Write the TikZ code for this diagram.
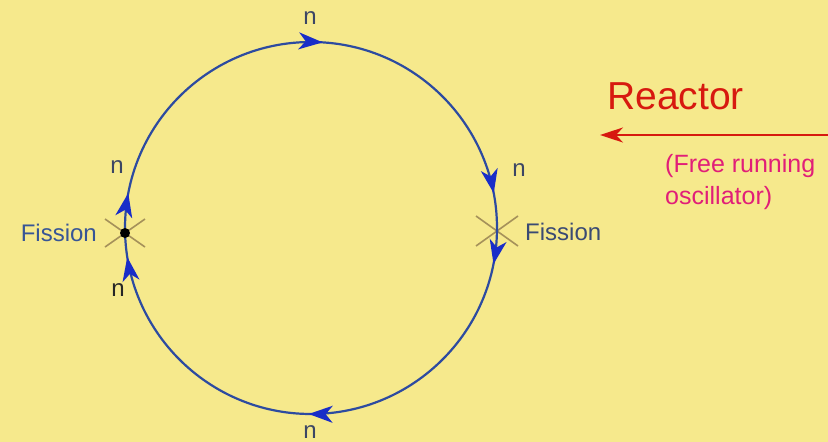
\documentclass[tikz,border=0pt]{standalone}
\usepackage{fontspec}
\setmainfont{Liberation Sans}
\usetikzlibrary{arrows.meta,decorations.markings,calc}
\definecolor{bgyel}{RGB}{246,233,140}
\definecolor{loopblue}{RGB}{45,75,160}
\definecolor{tipblue}{RGB}{25,45,200}
\definecolor{labblue}{RGB}{55,85,150}
\definecolor{nblue}{RGB}{60,70,100}
\definecolor{crosscol}{RGB}{165,145,90}
\definecolor{reactred}{RGB}{215,25,15}
\definecolor{oscpink}{RGB}{225,30,120}
\tikzset{
  lbl/.style={inner sep=0pt, font=\fontsize{24}{28}\selectfont},
  nlbl/.style={lbl, text=nblue},
  fislbl/.style={lbl, text=labblue},
  crossline/.style={draw=crosscol, line width=1.6pt},
  looptip/.tip={Stealth[length=24pt,width=17pt,inset=7pt]}
}
\begin{document}
\begin{tikzpicture}[x=1pt,y=-1pt]
\fill[bgyel] (0,0) rectangle (828,442);
\useasboundingbox (0,0) rectangle (828,442);
\coordinate (c) at (311,228);
% crosses
\coordinate (fisL) at (125,233);
\coordinate (fisR) at (497,231);
\draw[crossline] ($(fisL)+(-20,-14)$) -- ($(fisL)+(20,14)$);
\draw[crossline] ($(fisL)+(-20,14)$) -- ($(fisL)+(20,-14)$);
\draw[crossline] ($(fisR)+(-21,-15)$) -- ($(fisR)+(21,15)$);
\draw[crossline] ($(fisR)+(-21,15)$) -- ($(fisR)+(21,-15)$);
% loop
\draw[loopblue, line width=2.2pt,
  decoration={markings,
    mark=at position 0.010 with {\arrow[tipblue]{looptip}},
    mark=at position 0.220 with {\arrow[tipblue]{looptip}},
    mark=at position 0.281 with {\arrow[tipblue]{looptip}},
    mark=at position 0.502 with {\arrow[tipblue]{looptip}},
    mark=at position 0.725 with {\arrow[tipblue]{looptip}},
    mark=at position 0.780 with {\arrow[tipblue]{looptip}}
  }, postaction={decorate}]
  (c) ++(0,-186) arc[start angle=-90, end angle=270, radius=186];
\fill[black] (fisL) circle (5pt);
% labels
\node[nlbl] (nTop) at (310,18) {n};
\node[nlbl] (nRight) at (519,170) {n};
\node[nlbl] (nLeftT) at (117,167) {n};
\node[lbl, text=black!85] (nLeftB) at (118,290) {n};
\node[nlbl] (nBot) at (310,432) {n};
\node[fislbl, anchor=east] (fisLtext) at (97,233) {Fission};
\node[lbl, text=nblue!70!labblue, anchor=west] (fisRtext) at (525,232) {Fission};
% reactor
\node[inner sep=0pt, text=reactred, anchor=west, font=\fontsize{39}{44}\selectfont] (reactor) at (607,96) {Reactor};
\coordinate (arrStart) at (828,135);
\coordinate (arrEnd) at (600,135);
\draw[reactred, line width=2.4pt, -{Stealth[length=23pt,width=15pt,inset=7pt]}] (arrStart) -- (arrEnd);
\node[inner sep=0pt, text=oscpink, anchor=west, font=\fontsize{25}{29}\selectfont] (osc1) at (665,166) {(Free running};
\node[inner sep=0pt, text=oscpink, anchor=west, font=\fontsize{25}{29}\selectfont] (osc2) at (665,198) {oscillator)};
\end{tikzpicture}
\end{document}
